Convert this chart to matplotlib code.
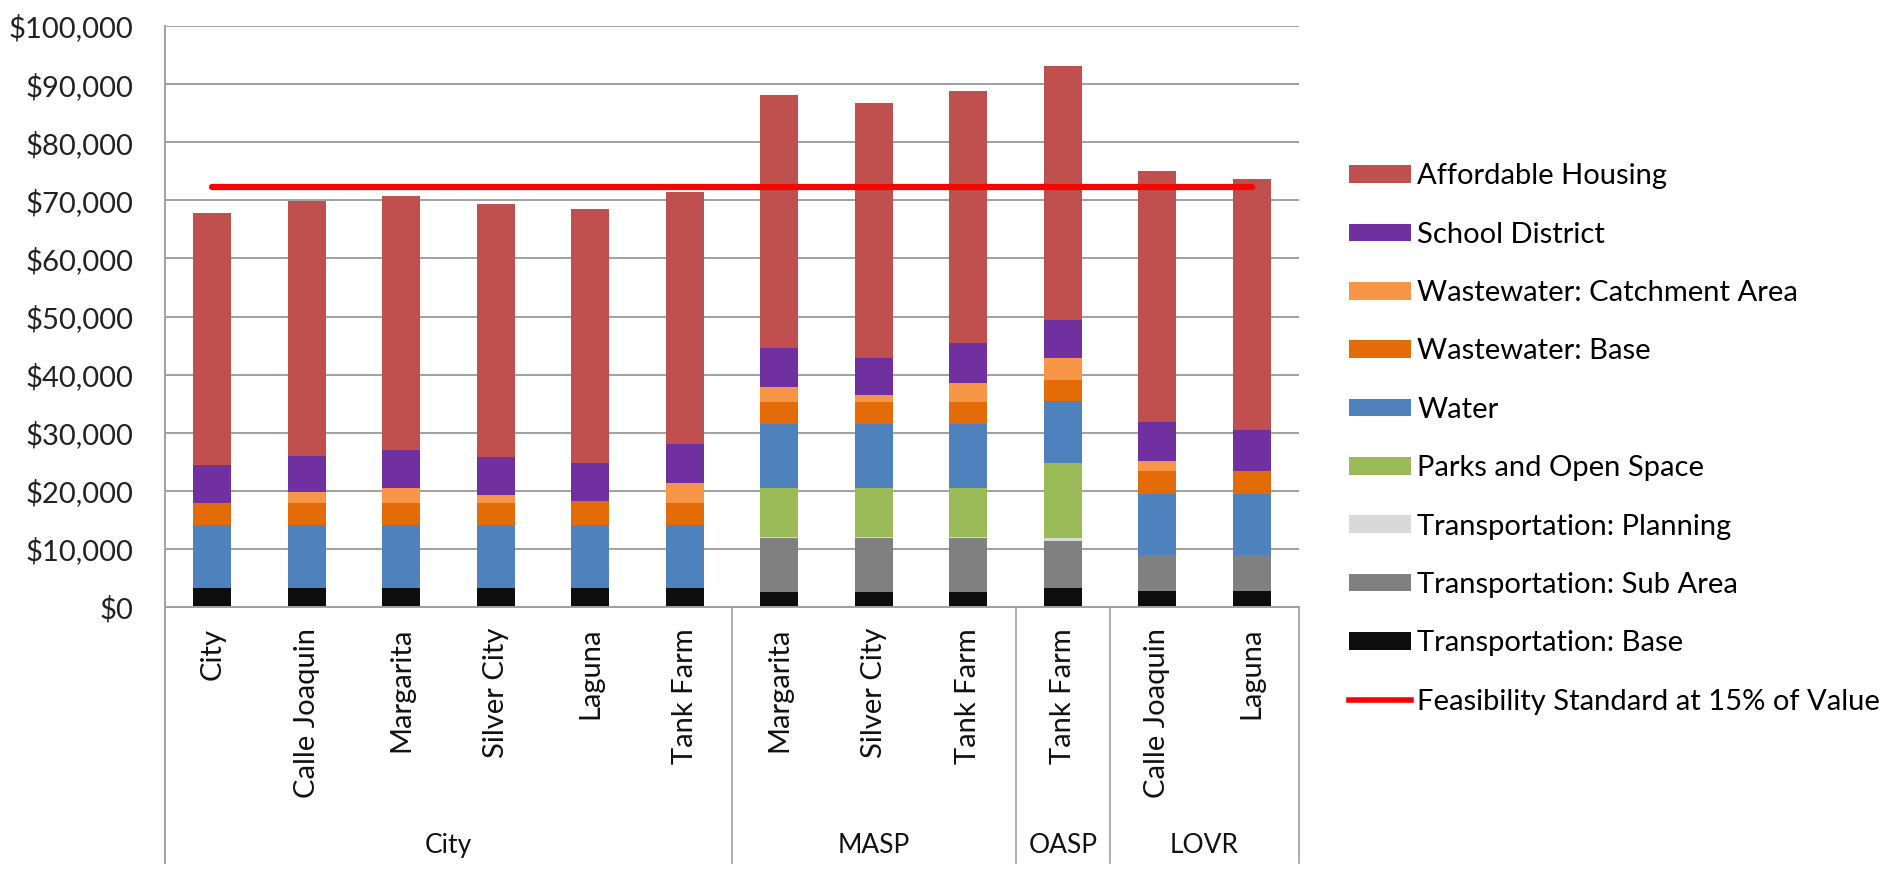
import matplotlib
matplotlib.use("Agg")
import matplotlib.pyplot as plt
from matplotlib.patches import Patch
from matplotlib.lines import Line2D
import numpy as np

plt.rcParams['font.family'] = ['Lato', 'DejaVu Sans']

# ---------------- data ----------------
categories = ["City", "Calle Joaquin", "Margarita", "Silver City", "Laguna", "Tank Farm",
              "Margarita", "Silver City", "Tank Farm",
              "Tank Farm",
              "Calle Joaquin", "Laguna"]
groups = ["City", "MASP", "OASP", "LOVR"]
group_sizes = [6, 3, 1, 2]

transport_base = [3300, 3300, 3300, 3300, 3300, 3300, 2500, 2500, 2500, 3300, 2700, 2700]
transport_sub = [0, 0, 0, 0, 0, 0, 9300, 9300, 9300, 8080, 6270, 6270]
transport_plan = [0, 0, 0, 0, 0, 0, 250, 250, 250, 540, 0, 0]
parks = [0, 0, 0, 0, 0, 0, 8500, 8500, 8500, 12810, 0, 0]
water = [10800, 10800, 10800, 10800, 10800, 10800, 10900, 10900, 10900, 10690, 10560, 10560]
ww_base = [3750, 3750, 3750, 3750, 4200, 3750, 3820, 3820, 3820, 3610, 3950, 3950]
ww_catch = [0, 1900, 2700, 1350, 0, 3450, 2520, 1290, 3330, 3890, 1700, 0]
school = [6670, 6270, 6470, 6680, 6410, 6680, 6810, 6340, 6820, 6470, 6680, 7020]
affordable = [43380, 43800, 43670, 43460, 43800, 43390, 43460, 43800, 43460, 43730, 43260, 43250]
feasibility = [72300, 72300, 72300, 72300, 72300, 72300, 72300, 72300, 72300, 72300, 72300, 72300]

series = [
    ("Transportation: Base", transport_base, "#0D0D0D"),
    ("Transportation: Sub Area", transport_sub, "#808080"),
    ("Transportation: Planning", transport_plan, "#D9D9D9"),
    ("Parks and Open Space", parks, "#9BBB59"),
    ("Water", water, "#4F81BD"),
    ("Wastewater: Base", ww_base, "#E36C09"),
    ("Wastewater: Catchment Area", ww_catch, "#F79646"),
    ("School District", school, "#7030A0"),
    ("Affordable Housing", affordable, "#C0504D"),
]
line_label = "Feasibility Standard at 15% of Value"

# ---------------- figure ----------------
fig = plt.figure(figsize=(18.91, 8.72), dpi=100)
ax = fig.add_axes([165/1891, 1-607/872, (1299-165)/1891, (607-26)/872])

x = np.arange(len(categories))
bottom = np.zeros(len(categories))
handles = []
for name, vals, col in series:
    v = np.array(vals, dtype=float)
    ax.bar(x, v, 0.40, bottom=bottom, color=col, zorder=2, linewidth=0)
    bottom += v
    handles.append(Patch(facecolor=col, label=name))

ax.plot(x, feasibility, color="#FF0000", linewidth=4.5, zorder=3, solid_capstyle='round')

ax.set_xlim(-0.5, len(categories) - 0.5)
ax.set_ylim(0, 100000)
ax.set_yticks(np.arange(0, 100001, 10000))
ax.set_yticklabels([f"${v:,.0f}" for v in np.arange(0, 100001, 10000)], fontsize=21, color="#222222")
ax.tick_params(axis='y', length=0, pad=23)
ax.set_xticks([])
ax.yaxis.grid(True, color="#A0A0A0", linewidth=1.4, zorder=0)
ax.set_axisbelow(True)
for s in ['top', 'right', 'left']:
    ax.spines[s].set_visible(False)
ax.spines['bottom'].set_color("#A0A0A0")
ax.spines['bottom'].set_linewidth(1.4)

trans = ax.get_xaxis_transform()
# category labels
for xi, lab in zip(x, categories):
    ax.text(xi, -0.036, lab, rotation=90, ha='center', va='top', fontsize=21,
            transform=trans, color="#111111")

# group separators and labels
bottom_y = -0.44
edges = [-0.5]
for n in group_sizes:
    edges.append(edges[-1] + n)
ax.plot([-0.5, -0.5], [1.0, bottom_y], transform=trans, color="#A0A0A0",
        linewidth=1.4, clip_on=False)
for e in edges[1:]:
    ax.plot([e, e], [0, bottom_y], transform=trans, color="#A0A0A0",
            linewidth=1.2, clip_on=False)
for g, a, b in zip(groups, edges[:-1], edges[1:]):
    ax.text((a + b) / 2, -0.41, g, ha='center', va='center', fontsize=19,
            transform=trans, color="#111111")

# legend
leg_handles = handles[::-1] + [Line2D([0], [0], color="#FF0000", linewidth=4, label=line_label)]
fig.legend(handles=leg_handles, loc='center left', bbox_to_anchor=(1349/1891, 1-439/872),
           frameon=False, fontsize=21, handlelength=2.12, handleheight=0.55,
           handletextpad=0.22, labelspacing=1.11, borderpad=0, borderaxespad=0)

fig.savefig("out.png", dpi=100)
